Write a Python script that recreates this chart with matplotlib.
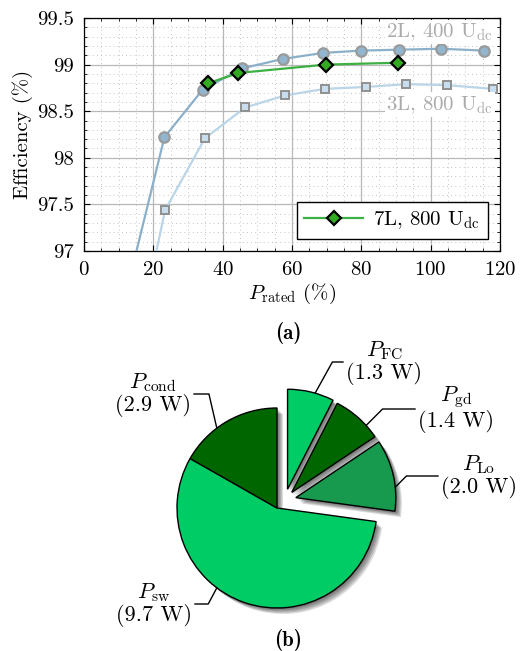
import numpy as np
import matplotlib
matplotlib.use('Agg')
import matplotlib.pyplot as plt
import matplotlib.patches as mpatches
from matplotlib.ticker import MultipleLocator

plt.rcParams['font.family'] = 'serif'
plt.rcParams['font.serif'] = ['cmr10']
plt.rcParams['mathtext.fontset'] = 'cm'
plt.rcParams['axes.formatter.use_mathtext'] = True
plt.rcParams['axes.unicode_minus'] = False

# efficiency vs rated power
p_2l = [11.5, 23.2, 34.2, 45.7, 57.3, 68.8, 79.9, 90.9, 103.0, 115.4]
eff_2l = [96.45, 98.22, 98.73, 98.96, 99.06, 99.125, 99.15, 99.16, 99.17, 99.15]
p_3l = [11.5, 23.4, 34.9, 46.5, 58.1, 69.5, 81.3, 93.0, 104.6, 117.9]
eff_3l = [95.35, 97.44, 98.21, 98.54, 98.67, 98.74, 98.76, 98.79, 98.78, 98.74]
p_7l = [35.8, 44.5, 69.7, 90.7]
eff_7l = [98.80, 98.91, 99.00, 99.02]

# loss breakdown (W)
loss_names = ['FC', 'gd', 'Lo', 'sw', 'cond']
loss_watts = [1.3, 1.4, 2.0, 9.7, 2.9]
loss_colors = ['#00cc66', '#006600', '#179a4e', '#00cc66', '#006600']
exploded = [True, True, True, False, False]

W, H = 520, 651
fig = plt.figure(figsize=(W / 100, H / 100), dpi=100)

# ---------- (a) efficiency ----------
ax = fig.add_axes([84 / W, 1 - 251 / H, 416 / W, 233 / H])
ax.plot(p_2l, eff_2l, '-o', color='#8cb0c9', lw=1.6, ms=7.5, mfc='#92b6cf',
        mec='#9a9a9a', mew=1.6, zorder=3)
ax.plot(p_3l, eff_3l, '-s', color='#bad5e8', lw=1.6, ms=5.5, mfc='#c8deee',
        mec='#909090', mew=1.4, zorder=3)
ax.plot(p_7l, eff_7l, '-D', color='#3cb043', lw=1.6, ms=7, mfc='#33aa22',
        mec='black', mew=1.6, zorder=4, label=r'7L, 800 U$_{\mathrm{dc}}$')

ax.set_xlim(0, 120)
ax.set_ylim(97, 99.5)
ax.xaxis.set_major_locator(MultipleLocator(20))
ax.xaxis.set_minor_locator(MultipleLocator(5))
ax.yaxis.set_minor_locator(MultipleLocator(0.1))
ax.set_yticks([97, 97.5, 98, 98.5, 99, 99.5])
ax.set_yticklabels(['97', '97.5', '98', '98.5', '99', '99.5'])
ax.grid(which='major', color='#b8b8b8', lw=0.9)
ax.grid(which='minor', color='#b0b0b0', lw=0.6, ls=(0, (1, 4)))
ax.set_axisbelow(True)
ax.tick_params(which='both', direction='in', top=True, right=True, labelsize=15)
ax.tick_params(which='major', length=4, width=0.8, pad=7)
ax.tick_params(which='minor', length=2, width=0.6)
for s in ax.spines.values():
    s.set_linewidth(0.9)

ax.set_xlabel(r'$P_{\mathrm{rated}}$ (%)', fontsize=15, labelpad=2)
ax.set_ylabel('Efficiency (%)', fontsize=15, labelpad=3)

ax.text(118, 99.35, r'2L, 400 U$_{\mathrm{dc}}$', ha='right', va='center',
        fontsize=15, color='#ababab', zorder=5,
        bbox=dict(facecolor='white', edgecolor='none', pad=1))
ax.text(118, 98.57, r'3L, 800 U$_{\mathrm{dc}}$', ha='right', va='center',
        fontsize=15, color='#ababab', zorder=5,
        bbox=dict(facecolor='white', edgecolor='none', pad=1))

leg = ax.legend(loc='lower right', fontsize=15, fancybox=False, framealpha=1,
                edgecolor='black', handlelength=2.8, borderaxespad=0.6,
                borderpad=0.35, handletextpad=0.5)
leg.get_frame().set_linewidth(1.0)

fig.text(288 / W, 1 - 333 / H, '(a)', ha='center', va='center', fontsize=15,
         family='cmb10')
fig.text(288 / W, 1 - 640 / H, '(b)', ha='center', va='center', fontsize=15,
         family='cmb10')

# ---------- (b) loss breakdown ----------
pax = fig.add_axes([0, 0, 1, 311 / H])
wedges, _ = pax.pie(loss_watts, colors=loss_colors, startangle=90,
                    counterclock=False,
                    wedgeprops=dict(edgecolor='black', linewidth=1.0, zorder=2))

theta_mid = [np.deg2rad(0.5 * (w.theta1 + w.theta2)) for w in wedges]
group = [t for t, e in zip(theta_mid, exploded) if e]
group_mid = 0.5 * (max(group) + min(group))
for w, t, e in zip(wedges, theta_mid, exploded):
    if e:
        a = 0.5 * (t + group_mid)
        w.set_center((0.215 * np.cos(a), 0.215 * np.sin(a)))

# soft drop shadow (drawn below all wedges)
for w in wedges:
    cx, cy = w.center
    for o in [0.012, 0.024, 0.036, 0.048, 0.06]:
        pax.add_patch(mpatches.Wedge((cx + o, cy - o), w.r, w.theta1, w.theta2,
                                     facecolor='black', edgecolor='none',
                                     alpha=0.14, zorder=1))

# label layout: anchor angle on rim, text centre, leader angle
label_anchor = [74, 42, 6, 233, 127]
label_pos = [(1.07, 1.46), (1.79, 0.99), (2.02, 0.32), (-1.23, -0.96), (-1.24, 1.14)]
leader_ang = [61, 45, 45, 242, 103]
for w, name, val, ang, pos, la in zip(wedges, loss_names, loss_watts,
                                      label_anchor, label_pos, leader_ang):
    cx, cy = w.center
    xy = (cx + np.cos(np.deg2rad(ang)), cy + np.sin(np.deg2rad(ang)))
    right_side = pos[0] > 0
    pax.annotate(r'$P_{\mathrm{%s}}$' % name + '\n' + '(%.1f W)' % val,
                 xy=xy, xytext=pos, ha='center', va='center', fontsize=16,
                 linespacing=1.0,
                 arrowprops=dict(arrowstyle='-', color='black', lw=1.0,
                                 shrinkA=0, shrinkB=0,
                                 relpos=(0, 0.5) if right_side else (1, 0.5),
                                 connectionstyle='angle,angleA=0,angleB=%d' % la))

pax.set_aspect('equal')
pax.set_xlim(-2.77, 2.43)
pax.set_ylim(-1.43, 1.68)
pax.axis('off')

fig.savefig('out.png', dpi=100)
